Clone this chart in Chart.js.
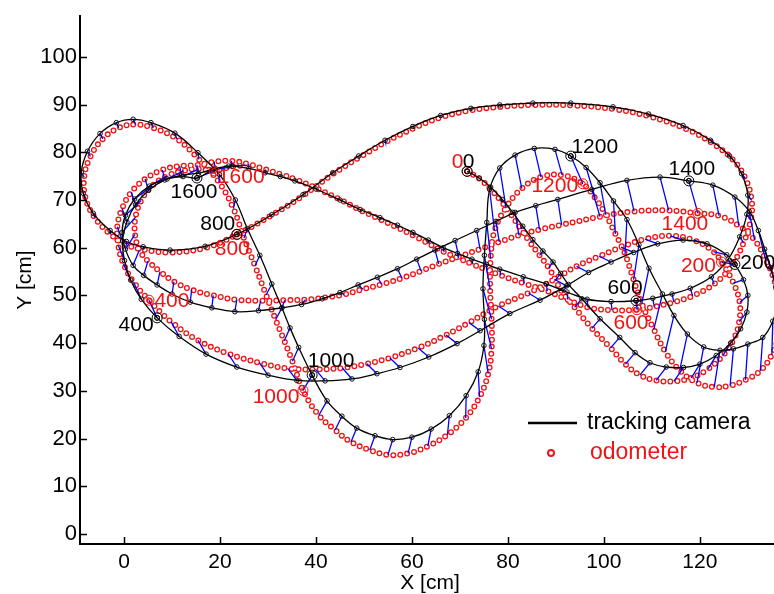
<!DOCTYPE html>
<html>
<head>
<meta charset="utf-8">
<script src="https://cdn.jsdelivr.net/npm/chart.js@4.4.0/dist/chart.umd.min.js"></script>
<style>
  html, body { margin: 0; padding: 0; background: #fff; overflow: hidden; }
  #wrap { width: 800px; height: 594px; }
</style>
</head>
<body>
<div id="wrap"><canvas id="c" width="800" height="594"></canvas></div>
<script>
// tick values
const xTicks = [0, 20, 40, 60, 80, 100, 120];
const yTicks = [0, 10, 20, 30, 40, 50, 60, 70, 80, 90, 100];
const sampleLabels = ['0', '200', '400', '600', '800', '1000', '1200', '1400', '1600'];

// tracking camera, one array per 200 samples (each starts at the labelled sample)
const cam0 = [[71.5,76],[74,74.6],[76.4,72.7],[78.8,70.1],[81,67.4],[83.1,64.5],[85.2,61.7],[87.3,59.3],[89.4,57],[91,54.6],[92.6,52.3],[95.4,49.3],[99.2,45.1],[103.3,41.2],[106.5,38],[109.6,35.9],[113,35],[116.6,34.9],[120,35.6],[123.4,37.4],[126.4,40],[128.5,43],[129.8,46.5],[130,50],[129.1,53.3]];
const cam200 = [[127.3,56.5],[125.6,58.5],[121.5,60.8],[116.5,61.6],[111.2,60.8],[106.2,59],[101.5,57],[96.8,54.8],[92.2,52],[86.7,49],[80.4,46.2],[74.2,42.6],[69.4,39.9],[63.5,37.1],[57.5,34.9],[52.7,33.6],[47.5,32.5],[41.9,32.1],[36,32.2],[30,33.3],[23.5,35],[17.1,37.7],[11.5,41.4]];
const cam400 = [[6.9,45.3],[3.6,49.2],[1.4,53.2],[0.1,57.3],[-0.3,61.4],[0.6,65.4],[2.4,69],[5.1,72],[8.5,74.2],[12,75.2],[15.5,75.6],[19,76.6],[22.5,77.1],[26,76.6],[29.4,75.7],[32.6,74.9],[35.6,74],[40,72.3],[45,70],[49.2,68],[53.3,66.3],[57,64.7],[60.2,63.2],[63.4,61.6],[66.5,60],[69.5,58.8],[72.5,57.6],[75.5,56.5],[78.3,55.5],[83.2,53.9],[88,52.4],[92.3,50.7],[96.5,49.2],[101.5,48.7]];
const cam600 = [[106.7,48.9],[110.2,49.4],[114.2,50.3],[118,51.5],[122.4,53.9],[125.9,57.6],[128.3,62.3],[129.8,67],[130,71],[128.7,75.5],[126.2,79.2],[122.2,82.5],[116.5,85.6],[109.3,88],[101.9,89.5],[93.1,90.3],[85.2,90.3],[78.3,89.9],[72.3,89.2],[66,87.7],[60.2,85.4],[54.4,82.5],[48.9,79.2],[43.5,75.7],[37.3,71.1],[30.8,66.9]];
const cam800 = [[23.5,62.8],[16.9,60.3],[9.6,59.5],[4,60.2],[0.5,61.3],[-2.9,63.6],[-6.4,67.2],[-8.5,71.4],[-8.9,75.8],[-7.6,80.2],[-5,83.9],[-1.6,86.2],[1.9,86.9],[5.6,86.2],[10.6,84],[15.4,79.9],[19.9,75.3],[23.2,70],[25.7,64],[28.3,58.4],[30.8,52.4],[32.9,47.4],[34.6,43.2],[36.4,39.1]];
const cam1000 = [[39.2,33.3],[42.3,27.9],[45.4,24.7],[48.5,22.2],[52.3,20.6],[56,19.8],[60,20.3],[64,22],[67.8,24.8],[71.3,29],[73.8,34],[75,39.5],[75.1,45],[74.8,51.4],[75.1,58.4],[75.6,65.3],[76.2,72.2],[78.3,76.7],[81.5,79.4],[85.5,80.8],[89.8,80.6]];
const cam1200 = [[93.1,79.2],[96.3,76.8],[99.2,73.6],[102,69.8],[104.8,65.9],[107.3,60.6],[109.4,55.7],[112.2,50.3],[114.6,45.8],[117.4,41.9],[120.8,39.2],[124.2,38.5],[127,38.8],[130,39.8],[133.1,41.2],[135.2,44.6],[136.1,48.2],[135.8,51.8],[134.8,55.8],[133.5,59.7],[132.2,63.6],[130.3,67.6],[127.3,70.6],[122.7,73.1]];
const cam1400 = [[117.7,74],[111.7,74.8],[104.8,74.1],[97.5,72.2],[90.4,70.1],[85.8,68.8],[81.5,67.4],[77.5,65.5],[73.5,63.6],[69,61.5],[64.8,59.5],[61,57.6],[57,55.6],[52.8,53.8],[48.8,52.2],[45,50.6],[41.3,49.3],[37,48.1],[32.9,47.4],[28,46.8],[23.1,46.6],[18.3,47.4],[13.8,48.6],[10,50.3],[6.9,52.2],[4.1,54.2],[1.9,56.3],[0.3,59.7],[-0.4,63.2],[0.3,66.8],[2.2,70.2],[5.3,72.9],[9,74.4],[12.3,74.9]];
const cam1600 = [[15.2,74.6],[18.5,76.3],[21.8,77.1]];

// odometer, same samples
const odo0 = [[71.5,76],[74,74.5],[76.3,72.4],[78.6,69.7],[80.7,66.9],[82.7,63.9],[84.7,61],[86.6,58.4],[88.5,55.8],[89.9,53.2],[91.3,50.7],[93.9,47.5],[97.5,43.1],[101.4,39],[104.5,35.6],[107.5,33.3],[110.9,32.2],[114.6,32],[118.2,32.7],[121.7,34.6],[124.8,37.4],[127,40.7],[128.2,44.5],[128.3,48.5],[127,52.6]];
const odo200 = [[124.5,57],[122.8,59.2],[118.7,61.6],[113.8,62.5],[108.6,61.8],[103.6,60.1],[99,58.2],[94.3,56.1],[89.7,53.4],[84.3,50.5],[78,47.8],[71.9,44.3],[67.1,41.7],[61.3,39],[55.4,36.9],[50.6,35.7],[45.5,34.8],[39.9,34.5],[34.1,34.7],[28.2,35.9],[21.7,37.8],[15.4,40.6],[9.8,44.5]];
const odo400 = [[5.2,49],[2,52.8],[-0.1,56.6],[-1.2,60.5],[-1.4,64.4],[-0.4,68.2],[1.5,71.6],[4.4,74.4],[8,76.3],[11.6,77.1],[15.2,77.3],[18.8,78],[22.4,78.2],[26,77.5],[29.5,76.4],[32.7,75.4],[35.8,74.3],[40.2,72.4],[45.2,70],[49.4,67.8],[53.5,65.9],[57.2,64.1],[60.4,62.5],[63.6,60.8],[66.7,59.1],[69.7,57.8],[72.7,56.5],[75.7,55.3],[78.5,54.2],[83.4,52.5],[88.2,50.9],[92.5,49.1],[96.7,47.5],[101.7,46.9]];
const odo600 = [[106.9,47],[110.5,47.6],[114.6,48.6],[118.5,49.9],[123,52.4],[126.6,56.2],[129.1,61],[130.6,65.8],[130.8,69.9],[129.5,74.5],[127,78.3],[122.9,81.7],[117.1,84.9],[109.8,87.4],[102.3,89],[93.4,89.8],[85.4,89.9],[78.5,89.5],[72.4,88.8],[66.1,87.3],[60.3,85],[54.5,82.1],[49,78.9],[43.5,75.4],[37.3,70.9],[30.8,66.8]];
const odo800 = [[23.6,62.8],[17.1,60],[9.8,59],[4.1,59.6],[0.5,60.6],[-2.8,62.8],[-6.1,66.3],[-8,70.4],[-8.3,74.8],[-7,79.1],[-4.4,82.8],[-1.1,85.1],[2.4,85.8],[6.1,85.1],[11,82.8],[15.6,78.5],[19.8,73.7],[22.8,68.2],[25,62],[27.3,56.2],[29.6,50.1],[31.6,44.9],[33.4,40.5],[35.1,36.2]];
const odo1000 = [[37.3,30.1],[40.6,24.9],[44,21.8],[47.3,19.3],[51.2,17.6],[55,16.6],[59.2,16.9],[63.3,18.4],[67.4,20.8],[71.2,24.3],[74.1,28.7],[75.9,33.6],[76.6,38.8],[76.6,45],[76.3,51.2],[76.4,57.7],[77.2,63.5],[79.6,68.4],[82.9,72.4],[86.9,74.8],[91.3,75.2]];
const odo1200 = [[95.6,73.4],[98.2,70.4],[100.4,66.9],[102.4,62.9],[104.4,58.7],[106.2,53.3],[107.9,48.3],[110.4,42.9],[112.8,38.2],[115.8,34.3],[119.4,31.7],[123,30.8],[126.3,31.1],[129.5,32.3],[132.6,34.2],[135,37.6],[136.4,41.5],[136.8,45.4],[136.3,49.6],[135.3,53.8],[133.6,57.8],[131.4,61.6],[128.1,64.6],[124,66.7]];
const odo1400 = [[119.6,67.2],[113.5,67.8],[106.3,67.6],[99.2,66.5],[91.2,64.8],[86.6,63.8],[82.3,62.6],[78.2,61.2],[74.2,59.7],[69.8,58.1],[65.6,56.6],[61.9,55.1],[57.9,53.6],[53.7,52.3],[49.8,51.3],[45.9,50.2],[42.2,49.6],[37.8,49.1],[33.5,49],[28.5,48.9],[23.5,49.1],[18.6,50],[14.1,51.2],[10.4,52.9],[7.5,55],[5,57.2],[3.2,59.5],[2.3,62.8],[2.4,66.4],[3.6,69.9],[5.8,72.9],[8.9,75],[12.4,76.1],[15.6,76.5]];
const odo1600 = [[18.8,76.1],[22.2,76.9],[25.6,77.3]];

const camSegs = [cam0, cam200, cam400, cam600, cam800, cam1000, cam1200, cam1400, cam1600];
const odoSegs = [odo0, odo200, odo400, odo600, odo800, odo1000, odo1200, odo1400, odo1600];

// label text offsets in px from the labelled point (style only)
const camLabelOffset = [[1.5,-9.5],[23,-1],[-21,7],[-11,-12],[-19,-10],[19,-14],[24,-9],[3,-12],[-3,14]];
const odoLabelOffset = [[-9.5,-9.5],[-23,4],[23,1],[-6,13],[-5,15],[-27,7],[-28,2],[-13,11],[27,6]];

const RED = 'rgb(238,20,20)';
const FONT = 'Liberation Sans, Arial, Helvetica, sans-serif';

const toPts = segs => segs.flat().map(p => ({x: p[0], y: p[1]}));
const camPts = toPts(camSegs);
const odoPts = toPts(odoSegs);

const links = [];
camPts.forEach((p, i) => {
  const q = odoPts[i];
  if (!q) return;
  links.push({x: p.x, y: p.y}, {x: q.x, y: q.y}, {x: null, y: null});
});

const ringStyle = {
  showLine: true, pointRadius: 0, fill: false, tension: 0.4,
  borderDash: [0, 7], borderCapStyle: 'round'
};

const overlay = {
  id: 'overlay',
  afterDatasetsDraw(chart) {
    const {ctx, chartArea: a, scales: {x, y}} = chart;
    ctx.save();
    // inward ticks like the original axes
    ctx.strokeStyle = '#000';
    ctx.lineWidth = 1.5;
    ctx.beginPath();
    xTicks.forEach(v => {
      const px = Math.round(x.getPixelForValue(v)) + 0.5;
      ctx.moveTo(px, a.bottom); ctx.lineTo(px, a.bottom - 7);
    });
    yTicks.forEach(v => {
      const py = Math.round(y.getPixelForValue(v)) + 0.5;
      ctx.moveTo(a.left, py); ctx.lineTo(a.left + 7, py);
    });
    ctx.stroke();

    // labelled samples
    ctx.font = '21px ' + FONT;
    ctx.textAlign = 'center';
    ctx.textBaseline = 'middle';
    sampleLabels.forEach((txt, k) => {
      const c = camSegs[k][0], o = odoSegs[k][0];
      const cx = x.getPixelForValue(c[0]), cy = y.getPixelForValue(c[1]);
      const ox = x.getPixelForValue(o[0]), oy = y.getPixelForValue(o[1]);
      ctx.lineWidth = 1;
      ctx.strokeStyle = RED;
      ctx.beginPath(); ctx.arc(ox, oy, 5, 0, Math.PI * 2); ctx.stroke();
      ctx.beginPath(); ctx.arc(ox, oy, 2.5, 0, Math.PI * 2); ctx.stroke();
      ctx.strokeStyle = '#000';
      ctx.beginPath(); ctx.arc(cx, cy, 5, 0, Math.PI * 2); ctx.stroke();
      ctx.beginPath(); ctx.arc(cx, cy, 2.5, 0, Math.PI * 2); ctx.stroke();
      ctx.fillStyle = RED;
      ctx.fillText(txt, ox + odoLabelOffset[k][0], oy + odoLabelOffset[k][1]);
      ctx.fillStyle = '#000';
      ctx.fillText(txt, cx + camLabelOffset[k][0], cy + camLabelOffset[k][1]);
    });

    // legend
    ctx.strokeStyle = '#000';
    ctx.lineWidth = 2.5;
    ctx.beginPath(); ctx.moveTo(528, 423); ctx.lineTo(577, 423); ctx.stroke();
    ctx.strokeStyle = RED;
    ctx.lineWidth = 2;
    ctx.beginPath(); ctx.arc(551, 453, 3, 0, Math.PI * 2); ctx.stroke();
    ctx.font = '23px ' + FONT;
    ctx.textAlign = 'left';
    ctx.fillStyle = '#000';
    ctx.fillText('tracking camera', 587, 423);
    ctx.fillStyle = RED;
    ctx.fillText('odometer', 590, 453);

    // axis titles
    ctx.fillStyle = '#000';
    ctx.font = '21px ' + FONT;
    ctx.textAlign = 'center';
    ctx.fillText('X [cm]', (a.left + a.right) / 2, 583);
    ctx.translate(25, (a.top + a.bottom) / 2);
    ctx.rotate(-Math.PI / 2);
    ctx.fillText('Y [cm]', 0, 0);
    ctx.restore();
  }
};

new Chart(document.getElementById('c'), {
  type: 'scatter',
  data: {
    datasets: [
      {label: 'tracking camera', data: camPts, showLine: true, tension: 0.4,
       borderColor: '#000', borderWidth: 1.3, pointRadius: 2.3, pointBorderWidth: 1,
       pointBorderColor: '#111', pointBackgroundColor: 'rgba(0,0,0,0)', order: 0},
      {label: 'link', data: links, showLine: true, tension: 0, spanGaps: false,
       borderColor: 'rgb(0,0,255)', borderWidth: 1.3, pointRadius: 0, order: 1},
      Object.assign({label: 'odometer core', data: odoPts, borderColor: '#fff', borderWidth: 3.4, order: 2}, ringStyle),
      Object.assign({label: 'odometer', data: odoPts, borderColor: RED, borderWidth: 6, order: 3}, ringStyle)
    ]
  },
  options: {
    responsive: false,
    animation: false,
    layout: {autoPadding: false, padding: {top: 12, right: 20, left: 0, bottom: 0}},
    plugins: {legend: {display: false}, tooltip: {enabled: false}},
    scales: {
      x: {
        type: 'linear', min: -9.17, max: 136.7,
        afterBuildTicks: s => { s.ticks = xTicks.map(v => ({value: v})); },
        afterFit: s => { s.height = 50; },
        grid: {display: false, drawTicks: false},
        border: {display: true, color: '#000', width: 2},
        ticks: {color: '#000', padding: 6, font: {family: FONT, size: 21}}
      },
      y: {
        type: 'linear', min: -2.08, max: 108.5,
        afterBuildTicks: s => { s.ticks = yTicks.map(v => ({value: v})); },
        afterFit: s => { s.width = 80; },
        grid: {display: false, drawTicks: false},
        border: {display: true, color: '#000', width: 2},
        ticks: {color: '#000', padding: 3, font: {family: FONT, size: 22}}
      }
    }
  },
  plugins: [overlay]
});
</script>
</body>
</html>
